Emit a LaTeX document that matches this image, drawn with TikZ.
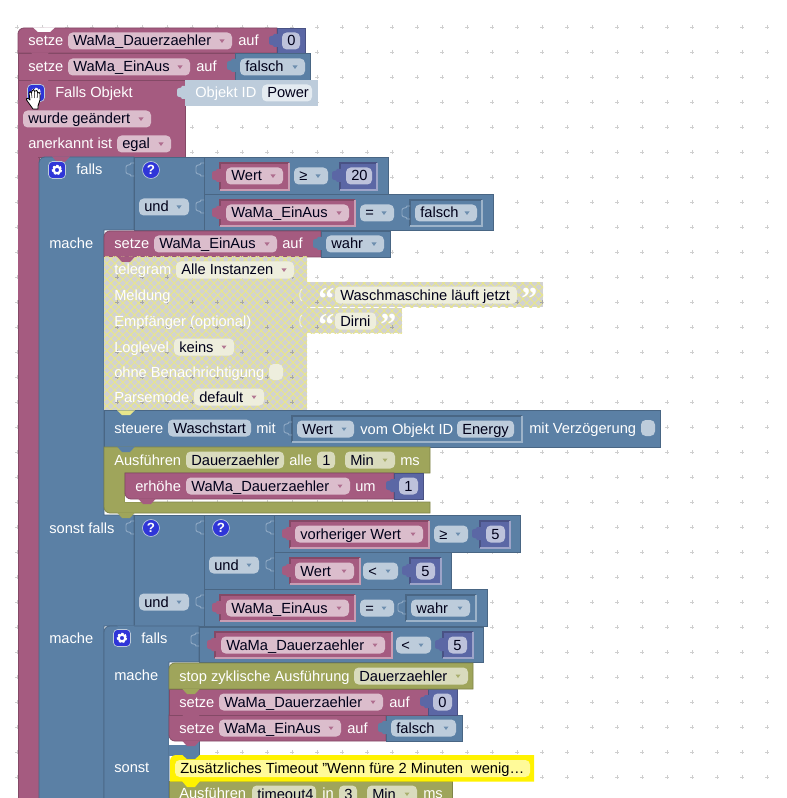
\documentclass[tikz,border=0pt]{standalone}
\usepackage{fontspec}
\setmainfont{Liberation Sans}
\newfontfamily\qfont{Liberation Serif}
\usetikzlibrary{patterns.meta}
\definecolor{pk}{HTML}{A55B80}\definecolor{pkd}{HTML}{844966}\definecolor{pkl}{HTML}{DBBDCC}
\definecolor{bl}{HTML}{5B80A5}\definecolor{bld}{HTML}{496684}\definecolor{bll}{HTML}{BDCCDB}
\definecolor{ig}{HTML}{5B67A5}\definecolor{igd}{HTML}{495284}\definecolor{igl}{HTML}{BDC2DB}
\definecolor{ol}{HTML}{9FA55B}\definecolor{old}{HTML}{7F8449}\definecolor{oll}{HTML}{D9DBBD}
\definecolor{ghost}{HTML}{BDCCDB}\definecolor{ghostl}{HTML}{E4EBF1}
\definecolor{hy}{HTML}{E8E68C}\definecolor{hg}{HTML}{D2D2D2}\definecolor{hf}{HTML}{EEEEDD}
\definecolor{socket}{HTML}{8FA9C4}\definecolor{ic}{HTML}{2F35D8}\definecolor{dots}{HTML}{CFCFCF}
\newcounter{nn}
\tikzset{
 wt/.style={text=white,anchor=base west,inner sep=0pt},
 ft/.style={text=black!90!blue,anchor=base west,inner sep=0pt},
 hatcha/.style={pattern={Lines[angle=45,distance=4.2pt,line width=0.7pt]},pattern color=hy},
 hatchb/.style={pattern={Lines[angle=-45,distance=4.2pt,line width=0.7pt]},pattern color=hy},
}
% hatched rectangle
\newcommand\hr[4]{\fill[hg] (#1,#2) rectangle (#3,#4);\fill[hatcha] (#1,#2) rectangle (#3,#4);\fill[hatchb] (#1,#2) rectangle (#3,#4);}
% block
\newcommand\bk[5]{\fill[#5] (#1,#2) rectangle (#3,#4);\draw[#5d,line width=.6pt] (#1,#2) rectangle (#3,#4);}
% rounded top-left block
\newcommand\bkr[5]{\path[fill=#5,draw=#5d,line width=.6pt] (#1,#4) -- (#1,#2+6) arc[start angle=180,end angle=270,radius=6] -- (#3,#2) -- (#3,#4) -- cycle;}
% rounded bottom-left block
\newcommand\bkb[5]{\path[fill=#5,draw=#5d,line width=.6pt] (#1,#2) -- (#3,#2) -- (#3,#4) -- (#1+6,#4) arc[start angle=90,end angle=180,radius=6] -- cycle;}
% inset block (dark top and left, light bottom and right)
\newcommand\ib[5]{\fill[#5] (#1,#2) rectangle (#3,#4);\draw[#5d,line width=.8pt] (#1,#4) -- (#1,#2) -- (#3,#2);\draw[#5!60!white,line width=.8pt] (#1,#4) -- (#3,#4) -- (#3,#2);}
% left tab: x, top y, colour
\newcommand\tabl[3]{\fill[#3] (#1+1,#2+6) -- (#1-3,#2+6) .. controls (#1-3,#2+9) and (#1-8,#2+7) .. (#1-8,#2+10) -- (#1-8,#2+15) .. controls (#1-8,#2+18) and (#1-3,#2+16) .. (#1-3,#2+19) -- (#1+1,#2+19) -- cycle;}
% socket outline
\newcommand\sock[2]{\draw[socket,line width=.7pt] (#1,#2+6) -- (#1-3,#2+6) .. controls (#1-3,#2+9) and (#1-8,#2+7) .. (#1-8,#2+10) -- (#1-8,#2+15) .. controls (#1-8,#2+18) and (#1-3,#2+16) .. (#1-3,#2+19) -- (#1,#2+19);}
% bump: x of block, bottom y, colour
\newcommand\bump[3]{\fill[#3] (#1+13,#2-.5) -- (#1+18,#2+5) -- (#1+26,#2+5) -- (#1+31,#2-.5) -- cycle;}
% white label
\newcommand\tx[3]{\stepcounter{nn}\node[wt] (t\thenn) at (#1,#2+5) {#3};}
% field with no arrow: x1,x2,yc,text,fillcolour
\newcommand\fd[5]{\stepcounter{nn}\fill[#5,rounded corners=3.5pt] (#1,#3-8.5) rectangle (#2,#3+8.5);\node[ft] (f\thenn) at (#1+5,#3+5) {#4};}
% field with arrow: +arrow colour
\newcommand\fa[6]{\fd{#1}{#2}{#3}{#4}{#5}\fill[#6,opacity=.8] (#2-12.5,#3-1.5) -- (#2-7.5,#3-1.5) -- (#2-10,#3+2) -- cycle;}
\newcommand\gear[2]{\fill[ic,draw=bll,line width=.5pt,rounded corners=3pt] (#1-8.5,#2-8.5) rectangle (#1+8.5,#2+8.5);
 \draw[white,line width=1.5pt,dash pattern=on 1.6pt off 1.2pt] (#1,#2) circle[radius=4.2];\draw[white,line width=1.6pt] (#1,#2) circle[radius=3.3];}
\newcommand\qm[2]{\stepcounter{nn}\fill[ic,draw=bll,line width=.5pt] (#1,#2) circle[radius=8.5];\node[text=white,inner sep=0pt,font=\bfseries\fontsize{10}{10}\selectfont] (q\thenn) at (#1,#2) {?};}
\newcommand\qq[3]{\stepcounter{nn}\node[wt,font=\qfont\bfseries\fontsize{24}{24}\selectfont] (k\thenn) at (#1,#2+14) {\smash{#3}};}
\newcommand\dotgrid[1]{\foreach \i in {0,...,31}{\foreach \j in {0,...,31}{\draw[#1,line width=.5pt] (17+25*\i-2,27+25*\j) -- (17+25*\i+2,27+25*\j) (17+25*\i,27+25*\j-2) -- (17+25*\i,27+25*\j+2);}}}
\begin{document}
\begin{tikzpicture}[x=.75pt,y=-.75pt,font=\fontsize{11}{13}\selectfont]
\useasboundingbox (0,0) rectangle (787,798);
\fill[white] (0,0) rectangle (787,798);
\clip (0,0) rectangle (787,798);
\dotgrid{dots}
% ---- hat stack
\fill[pk] (18,53) rectangle (39,798);\draw[pkd,line width=.6pt] (18,80) -- (18,798) (39,157) -- (39,798);
\bkr{18}{28}{277}{53}{pk}
\fill[white] (33,27.5) -- (38,32) -- (50,32) -- (55,27.5) -- cycle;
\bk{277}{28}{305}{53}{ig}\tabl{277}{28}{ig}
\tx{28}{41}{setze}\fa{68}{232}{41}{WaMa\_Dauerzaehler}{pkl}{pk}\tx{238}{41}{auf}\fd{282}{300}{41}{0}{igl}
\bk{18}{53}{235}{80}{pk}\bump{18}{53}{pk}
\bk{235}{53}{310}{80}{bl}\tabl{235}{53}{bl}
\tx{28}{67}{setze}\fa{68}{190}{67}{WaMa\_EinAus}{pkl}{pk}\tx{196}{67}{auf}\fa{240}{305}{67}{falsch}{bll}{bl}
\bk{18}{80}{185}{157}{pk}\bump{18}{80}{pk}
\fill[pk] (18.4,100) rectangle (38,300);
\fill[ghost] (185,80) rectangle (318,106);\tabl{185}{80}{ghost}
\tx{55}{93}{Falls Objekt}
\tx{195}{93}{Objekt ID}\fd{262}{312}{93}{Power}{ghostl}
\fa{23}{151}{119}{wurde geändert}{pkl}{pk}
\tx{28}{144}{anerkannt ist}\fa{117}{171}{144}{egal}{pkl}{pk}
% ---- outer falls
\path[fill=bl,draw=bld,line width=.6pt] (39,800) -- (39,163) arc[start angle=180,end angle=270,radius=6] -- (134,157) -- (134,230) -- (104,230) -- (104,515) -- (134,515) -- (134,626) -- (104,626) -- (104,800) -- cycle;
\bump{39}{157}{pk}
% first condition
\bk{134}{157}{204}{230}{bl}\sock{134}{157}
\bk{204}{157}{388}{194}{bl}\sock{204}{157}
\bk{204}{194}{493}{230}{bl}\sock{204}{194}
\ib{220}{163}{289}{190}{pk}\tabl{220}{163}{pk}
\ib{340}{163}{377}{190}{ig}\tabl{340}{163}{ig}
\ib{220}{200}{355}{226}{pk}\tabl{220}{200}{pk}
\ib{410}{200}{482}{226}{bl}\sock{410}{200}
\gear{57}{170}\qm{151}{170}
\tx{76}{170}{falls}\tx{49}{243}{mache}
\fa{226}{283}{176}{Wert}{pkl}{pk}\fa{294}{328}{176}{≥}{bll}{bl}\fd{346}{372}{176}{20}{igl}
\fa{139}{189}{207}{und}{bll}{bl}
\fa{226}{349}{213}{WaMa\_EinAus}{pkl}{pk}\fa{360}{394}{213}{=}{bll}{bl}\fa{415}{477}{213}{falsch}{bll}{bl}
% setze in mache
\bkr{104}{231}{321}{257}{pk}
\bk{321}{231}{390}{257}{bl}\tabl{321}{231}{bl}
\tx{114}{244}{setze}\fa{154}{277}{244}{WaMa\_EinAus}{pkl}{pk}\tx{282}{244}{auf}\fa{326}{384}{244}{wahr}{bll}{bl}
% telegram (disabled)
\hr{104}{257}{307}{410}
\hr{307}{282}{543}{307}
\hr{307}{308}{402}{333}
\begin{scope}
\clip (104,257) rectangle (307,410) (307,282) rectangle (543,307) (307,308) rectangle (402,333);
\dotgrid{black!35}
\end{scope}
\bump{104}{257}{pk}
\draw[white,opacity=.7,line width=.7pt] (302,289) .. controls (299,289) and (299,301) .. (302,301) (302,315) .. controls (299,315) and (299,327) .. (302,327);
\tx{114}{270}{telegram}\fa{176}{294}{270}{Alle Instanzen}{hf}{pk}
\tx{114}{295}{Meldung}\tx{114}{321}{Empfänger (optional)}
\tx{114}{347}{Loglevel}\fa{174}{234}{347}{keins}{hf}{pk}
\tx{114}{372}{ohne Benachrichtigung}\fill[hf,rounded corners=3.5pt] (269,364) rectangle (283,380);
\tx{114}{397}{Parsemode}\fa{194}{264}{397}{default}{hf}{pk}
\qq{318}{295}{“}\fd{335}{517}{295}{Waschmaschine läuft jetzt}{hf}\qq{521}{295}{”}
\qq{318}{321}{“}\fd{335}{376}{321}{Dirni}{hf}\qq{380}{321}{”}
% steuere
\bk{104}{410}{660}{447}{bl}
\fill[hy] (117,410.3) -- (122,415) -- (130,415) -- (135,410.3) -- cycle;
\ib{292}{416}{522}{442}{bl}\sock{292}{416}
\tx{114}{428}{steuere}\fd{168}{251}{428}{Waschstart}{bll}\tx{256}{428}{mit}
\fa{297}{354}{429}{Wert}{bll}{bl}\tx{360}{429}{vom Objekt ID}\fd{457}{514}{429}{Energy}{bll}
\tx{529}{428}{mit Verzögerung}\fill[bll,rounded corners=3.5pt] (641,420) rectangle (655,436);
% Ausführen
\path[fill=ol,draw=old,line width=.6pt] (104,447) -- (430,447) -- (430,473) -- (125,473) -- (125,502) -- (430,502) -- (430,513) -- (110,513) arc[start angle=90,end angle=180,radius=6] -- cycle;
\bump{104}{447}{bl}
\fill[white] (125,485) rectangle (145,502);
\bkb{125}{473}{394}{499}{pk}
\bk{394}{473}{423}{499}{ig}\tabl{394}{473}{ig}
\bump{125}{499}{pk}
\tx{114}{460}{Ausführen}\fd{186}{284}{460}{Dauerzaehler}{oll}\tx{289}{460}{alle}\fd{317}{335}{460}{1}{oll}\fa{345}{395}{460}{Min}{oll}{ol}\tx{400}{460}{ms}
\tx{135}{486}{erhöhe}\fa{186}{350}{486}{WaMa\_Dauerzaehler}{pkl}{pk}\tx{355}{486}{um}\fd{399}{418}{486}{1}{igl}
% sonst falls
\bk{134}{515}{204}{626}{bl}\sock{134}{515}
\bk{204}{515}{274}{589}{bl}\sock{204}{515}
\bk{274}{515}{520}{552}{bl}\sock{274}{515}
\bk{274}{552}{451}{589}{bl}\sock{274}{552}
\bk{204}{589}{487}{626}{bl}\sock{204}{589}
\bump{104}{513}{ol}
\ib{290}{521}{429}{548}{pk}\tabl{290}{521}{pk}
\ib{480}{521}{510}{548}{ig}\tabl{480}{521}{ig}
\ib{290}{558}{360}{584}{pk}\tabl{290}{558}{pk}
\ib{410}{558}{441}{584}{ig}\tabl{410}{558}{ig}
\ib{220}{595}{355}{621}{pk}\tabl{220}{595}{pk}
\ib{406}{595}{476}{621}{bl}\sock{406}{595}
\qm{151}{528}\qm{221}{528}
\tx{49}{528}{sonst falls}\tx{49}{638}{mache}
\fa{295}{423}{534}{vorheriger Wert}{pkl}{pk}\fa{434}{468}{534}{≥}{bll}{bl}\fd{486}{505}{534}{5}{igl}
\fa{209}{259}{565}{und}{bll}{bl}
\fa{295}{354}{571}{Wert}{pkl}{pk}\fa{363}{398}{571}{<}{bll}{bl}\fd{416}{435}{571}{5}{igl}
\fa{139}{189}{602}{und}{bll}{bl}
\fa{226}{349}{608}{WaMa\_EinAus}{pkl}{pk}\fa{360}{394}{608}{=}{bll}{bl}\fa{411}{470}{608}{wahr}{bll}{bl}
% inner falls
\path[fill=bl,draw=bld,line width=.6pt] (104,800) -- (104,632) arc[start angle=180,end angle=270,radius=6] -- (199,626) -- (199,662) -- (169,662) -- (169,800) -- cycle;
\bump{104}{626}{bl}
\bk{199}{627}{483}{662}{bl}\sock{199}{627}
\ib{215}{632}{392}{658}{pk}\tabl{215}{632}{pk}
\ib{443}{632}{473}{658}{ig}\tabl{443}{632}{ig}
\gear{122}{638}
\tx{141}{638}{falls}\tx{114}{675}{mache}\tx{114}{767}{sonst}
\fa{221}{385}{645}{WaMa\_Dauerzaehler}{pkl}{pk}\fa{396}{431}{645}{<}{bll}{bl}\fd{448}{467}{645}{5}{igl}
% bar under mache statements
\fill[bl] (169,740) rectangle (199,756);\draw[bld,line width=.6pt] (199,741) -- (199,755);
\fill[white] (169.4,730) rectangle (193,744.5);
% statements
\bkb{169}{715}{386}{741}{pk}\bk{386}{715}{462}{741}{bl}\tabl{386}{715}{bl}
\bk{169}{689}{428}{715}{pk}\bk{428}{689}{457}{715}{ig}\tabl{428}{689}{ig}
\bkr{169}{663}{473}{689}{ol}
\bump{169}{741}{pk}\bump{169}{715}{pk}\bump{169}{689}{ol}
\tx{179}{676}{stop zyklische Ausführung}\fa{354}{468}{676}{Dauerzaehler}{oll}{ol}
\tx{179}{702}{setze}\fa{219}{383}{702}{WaMa\_Dauerzaehler}{pkl}{pk}\tx{389}{702}{auf}\fd{433}{452}{702}{0}{igl}
\tx{179}{728}{setze}\fa{219}{341}{728}{WaMa\_EinAus}{pkl}{pk}\tx{347}{728}{auf}\fa{391}{456}{728}{falsch}{bll}{bl}
% bottom Ausführen + comment
\bk{169}{781}{452}{800}{ol}
\path[fill=yellow] (170,781.5) -- (170,761) arc[start angle=180,end angle=270,radius=6] -- (534,755) -- (534,781.5) -- cycle;
\fill[yellow] (182,781) -- (187,787) -- (195,787) -- (200,781) -- cycle;
\fill[bl] (182,754.5) -- (187,759) -- (195,759) -- (200,754.5) -- cycle;
\fill[yellow!40,rounded corners=3.5pt] (175,760) rectangle (530,777);
\stepcounter{nn}\node[ft,text=black] (c\thenn) at (180,773) {Zusätzliches Timeout "Wenn füre 2 Minuten\ \ wenig…};
\tx{179}{793}{Ausführen}\fd{252}{316}{794}{timeout4}{oll}\tx{322}{793}{in}\fd{339}{357}{794}{3}{oll}\fa{367}{417}{794}{Min}{oll}{ol}\tx{423}{793}{ms}
% cursor over gear
\gear{36}{93}
\path[fill=white,draw=black,line width=.6pt,line join=round] (33,109) -- (28,102) .. controls (25,99) and (27,97) .. (29,99) -- (30,100) -- (29,93) .. controls (29,91) and (31,91) .. (31.5,93) -- (32,91) .. controls (32.5,89) and (34.5,89) .. (34.5,91) -- (35.5,91) .. controls (36,90) and (37.5,90) .. (37.5,92) -- (38,93) .. controls (38.5,92) and (40,92) .. (40,94) -- (40,100) -- (38,106) -- (38,109) -- cycle;
\draw[black,line width=.4pt] (31.5,93) -- (32,98) (34.5,91) -- (34.7,98) (37.5,92) -- (37.2,98);
\end{tikzpicture}
\end{document}
